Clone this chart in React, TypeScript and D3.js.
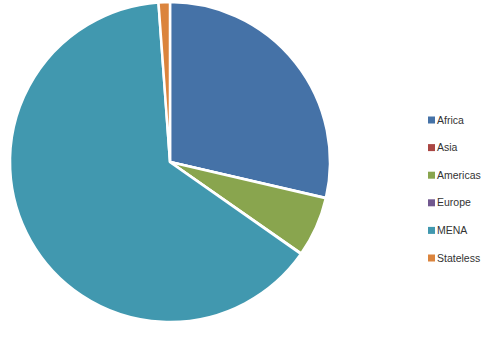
import React from "react";
import * as d3 from "d3";

const categories = ["Africa", "Asia", "Americas", "Europe", "MENA", "Stateless"];
const values = [28.6, 0.05, 6.05, 0.05, 64.1, 1.15];
const colors = ["#4572A7", "#AA4643", "#89A54E", "#71588F", "#4198AF", "#DB843D"];

export default function App() {
  const width = 498;
  const height = 338;
  const cx = 170;
  const cy = 162;
  const r = 160;
  const pie = d3.pie<number>().sort(null).value((d) => d);
  const arcs = pie(values);
  const arc = d3.arc<d3.PieArcDatum<number>>().innerRadius(0).outerRadius(r);
  const legendY = d3.scalePoint<string>().domain(categories).range([120, 258]);
  return (
    <svg
      width={width}
      height={height}
      style={{ position: "absolute", left: 0, top: 0, background: "#fff" }}
    >
      <g transform={`translate(${cx},${cy})`}>
        {arcs.map((a, i) => (
          <path
            key={categories[i]}
            d={arc(a) || ""}
            fill={colors[i]}
            stroke="#fff"
            strokeWidth={2.5}
            strokeLinejoin="miter"
          />
        ))}
      </g>
      <g>
        {categories.map((c, i) => (
          <g key={c} transform={`translate(428,${legendY(c)})`}>
            <rect x={0} y={-3.5} width={7} height={7} fill={colors[i]} />
            <text
              x={9}
              y={0}
              dy="0.35em"
              fontFamily="'Liberation Sans', Arial, sans-serif"
              fontSize={10.5}
              fill="#333"
            >
              {c}
            </text>
          </g>
        ))}
      </g>
    </svg>
  );
}
